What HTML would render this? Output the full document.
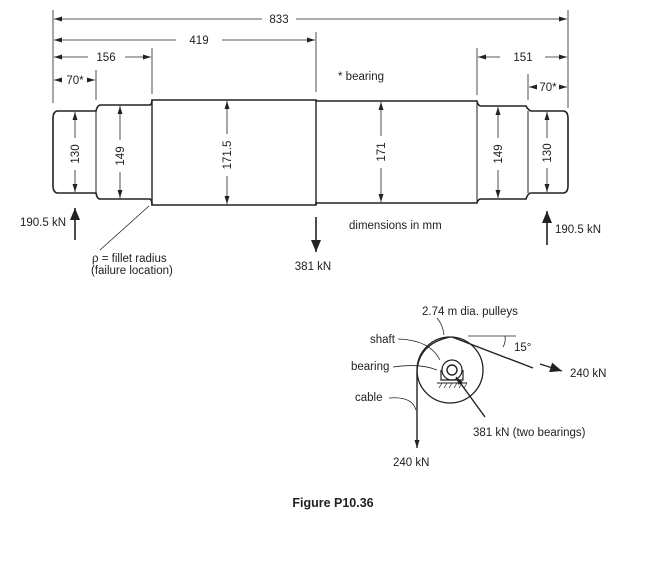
<!DOCTYPE html>
<html><head><style>
body{margin:0;background:#fff;}
svg text{font-family:"Liberation Sans",sans-serif;font-size:11.5px;fill:#222;}
</style></head><body>
<svg width="656" height="578" viewBox="0 0 656 578" xmlns="http://www.w3.org/2000/svg">
<defs>
<marker id="a" markerWidth="8" markerHeight="6" refX="8" refY="3" orient="auto-start-reverse" markerUnits="userSpaceOnUse"><path d="M0,0.5 L8,3 L0,5.5z" fill="#222"/></marker>
<marker id="b" markerWidth="12" markerHeight="10" refX="12" refY="5" orient="auto" markerUnits="userSpaceOnUse"><path d="M0,0 L12,5 L0,10z" fill="#222"/></marker>
</defs>
<g stroke="#222" stroke-width="0.8" fill="none">
<!-- extension lines -->
<line x1="53" y1="10" x2="53" y2="103"/>
<line x1="568" y1="10" x2="568" y2="108"/>
<line x1="96" y1="70" x2="96" y2="100"/>
<line x1="152" y1="48" x2="152" y2="94"/>
<line x1="316" y1="32" x2="316" y2="92"/>
<line x1="477" y1="48" x2="477" y2="95"/>
<line x1="528" y1="74" x2="528" y2="100"/>
<!-- dims -->
<line x1="54" y1="19" x2="262" y2="19" marker-start="url(#a)"/><line x1="296" y1="19" x2="567" y2="19" marker-end="url(#a)"/>
<line x1="54" y1="40" x2="176" y2="40" marker-start="url(#a)"/><line x1="222" y1="40" x2="315" y2="40" marker-end="url(#a)"/>
<line x1="54" y1="57" x2="88" y2="57" marker-start="url(#a)"/><line x1="125" y1="57" x2="151" y2="57" marker-end="url(#a)"/>
<line x1="54" y1="80" x2="62" y2="80" marker-start="url(#a)"/><line x1="88" y1="80" x2="95" y2="80" marker-end="url(#a)"/>
<line x1="478" y1="57" x2="500" y2="57" marker-start="url(#a)"/><line x1="545" y1="57" x2="567" y2="57" marker-end="url(#a)"/>
<line x1="529" y1="87" x2="536" y2="87" marker-start="url(#a)"/><line x1="560" y1="87" x2="567" y2="87" marker-end="url(#a)"/>
<!-- vertical dims -->
<line x1="75" y1="112" x2="75" y2="138" marker-start="url(#a)"/><line x1="75" y1="170" x2="75" y2="192" marker-end="url(#a)"/>
<line x1="120" y1="106" x2="120" y2="140" marker-start="url(#a)"/><line x1="120" y1="172" x2="120" y2="198" marker-end="url(#a)"/>
<line x1="227" y1="101" x2="227" y2="134" marker-start="url(#a)"/><line x1="227" y1="176" x2="227" y2="204" marker-end="url(#a)"/>
<line x1="381" y1="102" x2="381" y2="136" marker-start="url(#a)"/><line x1="381" y1="168" x2="381" y2="202" marker-end="url(#a)"/>
<line x1="498" y1="107" x2="498" y2="138" marker-start="url(#a)"/><line x1="498" y1="170" x2="498" y2="198" marker-end="url(#a)"/>
<line x1="547" y1="112" x2="547" y2="138" marker-start="url(#a)"/><line x1="547" y1="168" x2="547" y2="192" marker-end="url(#a)"/>
</g>
<!-- shaft -->
<path d="M57,111 L96,111 Q97,106 100,105 L150,105 Q152,104 152,100 L316,100 L316,101 L477,101 Q478,106 481,106 L526,106 Q528,110 531,111 L564,111 Q568,112 568,118 L568,186 Q568,192 564,193 L531,193 Q528,193 526,199 L481,199 Q478,199 477,203 L316,203 L316,205 L152,205 Q152,200 150,199 L100,199 Q97,199 96,193 L57,193 Q53,192 53,186 L53,118 Q53,112 57,111Z" fill="none" stroke="#222" stroke-width="1.6"/>
<line x1="152" y1="100" x2="152" y2="205" stroke="#222" stroke-width="1.4"/>
<line x1="316" y1="100" x2="316" y2="205" stroke="#222" stroke-width="1.4"/>
<line x1="96" y1="111" x2="96" y2="193" stroke="#222" stroke-width="1"/>
<line x1="528" y1="111" x2="528" y2="193" stroke="#222" stroke-width="1"/>
<line x1="477" y1="101" x2="477" y2="203" stroke="#222" stroke-width="1"/>
<!-- forces -->
<g stroke="#222" stroke-width="1.6">
<line x1="75" y1="240" x2="75" y2="208" marker-end="url(#b)"/>
<line x1="316" y1="217" x2="316" y2="252" marker-end="url(#b)"/>
<line x1="547" y1="245" x2="547" y2="211" marker-end="url(#b)"/>
</g>
<line x1="100" y1="250" x2="149" y2="206" stroke="#222" stroke-width="0.8"/>
<g>
<text x="279" y="23" text-anchor="middle">833</text>
<text x="199" y="44" text-anchor="middle">419</text>
<text x="106" y="61" text-anchor="middle">156</text>
<text x="75" y="84" text-anchor="middle">70*</text>
<text x="523" y="61" text-anchor="middle">151</text>
<text x="548" y="91" text-anchor="middle">70*</text>
<text x="338" y="80">* bearing</text>
<text x="79" y="154" text-anchor="middle" transform="rotate(-90 79 154)">130</text>
<text x="124" y="156" text-anchor="middle" transform="rotate(-90 124 156)">149</text>
<text x="231" y="155" text-anchor="middle" transform="rotate(-90 231 155)">171.5</text>
<text x="385" y="152" text-anchor="middle" transform="rotate(-90 385 152)">171</text>
<text x="502" y="154" text-anchor="middle" transform="rotate(-90 502 154)">149</text>
<text x="551" y="153" text-anchor="middle" transform="rotate(-90 551 153)">130</text>
<text x="66" y="226" text-anchor="end">190.5 kN</text>
<text x="555" y="233">190.5 kN</text>
<text x="313" y="270" text-anchor="middle">381 kN</text>
<text x="349" y="229">dimensions in mm</text>
<text x="92" y="262">ρ = fillet radius</text>
<text x="91" y="274">(failure location)</text>
</g>
<!-- pulley -->
<g stroke="#222" fill="none">
<circle cx="450" cy="370" r="33" stroke-width="1.3"/>
<circle cx="452" cy="370" r="10" stroke-width="1.2"/>
<circle cx="452" cy="370" r="5" stroke-width="1.4"/>
<path d="M441,370 L441,380 L463,380 L463,370" stroke-width="1.2"/>
<line x1="437" y1="383" x2="467" y2="383" stroke-width="1"/>
<path d="M439,388 l3,-5 M444,388 l3,-5 M449,388 l3,-5 M454,388 l3,-5 M459,388 l3,-5 M464,388 l3,-5" stroke-width="0.7"/>
<path d="M417,372 L417,440" stroke-width="1.4"/>
<path d="M417,372 Q418,344 450,337" stroke-width="1.3"/>
<line x1="417" y1="440" x2="417" y2="448" stroke-width="1.4" marker-end="url(#a)"/>
<line x1="452" y1="337" x2="533" y2="368" stroke-width="1.4"/>
<line x1="540" y1="364" x2="562" y2="371" stroke-width="1.4" marker-end="url(#b)"/>
<line x1="468" y1="336" x2="516" y2="336" stroke-width="0.8"/>
<path d="M505,336 Q506,342 503,347" stroke-width="0.8"/>
<line x1="485" y1="417" x2="456" y2="377" stroke-width="1.4" marker-end="url(#a)"/>
<path d="M398,339 Q430,340 440,360" stroke-width="0.8"/>
<path d="M393,367 Q420,363 437,370" stroke-width="0.8"/>
<path d="M389,398 Q412,396 416,410" stroke-width="0.8"/>
<path d="M437,318 Q443,325 444,335" stroke-width="0.8"/>
</g>
<text x="422" y="315">2.74 m dia. pulleys</text>
<text x="370" y="343">shaft</text>
<text x="351" y="370">bearing</text>
<text x="355" y="401">cable</text>
<text x="514" y="351">15°</text>
<text x="570" y="377">240 kN</text>
<text x="473" y="436">381 kN (two bearings)</text>
<text x="393" y="466">240 kN</text>
<text x="333" y="507" text-anchor="middle" style="font-weight:bold;font-size:12.5px">Figure P10.36</text>
</svg>
</body></html>
